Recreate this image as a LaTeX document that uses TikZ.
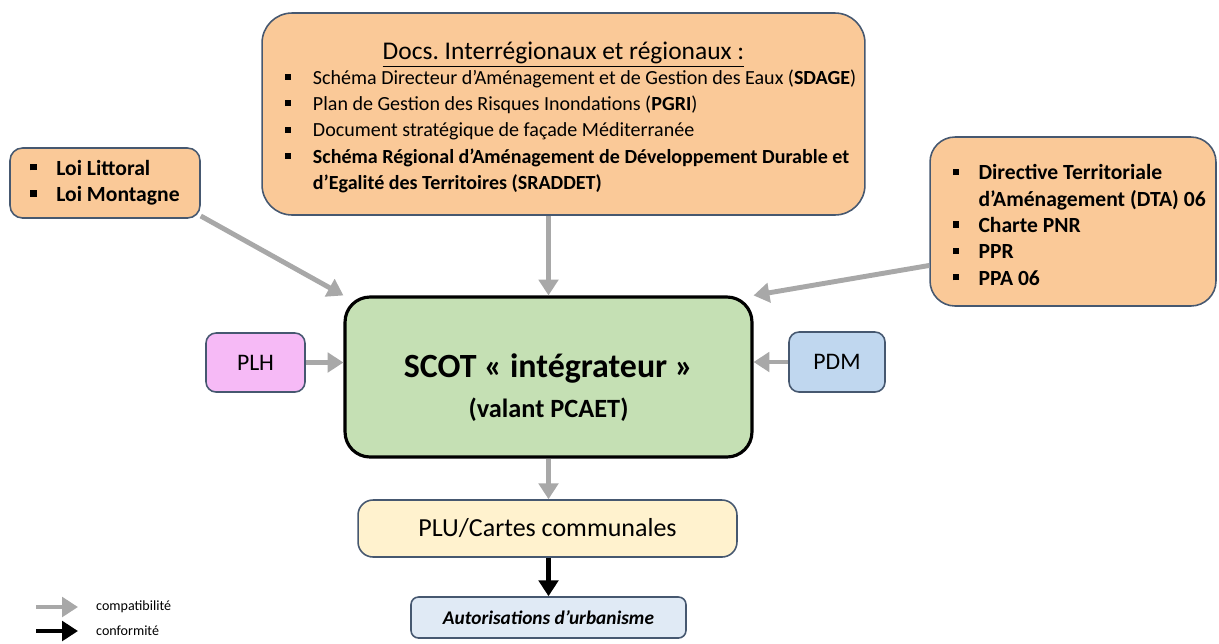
\documentclass[tikz,border=0pt]{standalone}
\usepackage{fontspec}
\setmainfont{Carlito}
\usetikzlibrary{arrows.meta}

\definecolor{orangefill}{RGB}{250,201,152}
\definecolor{greenfill}{RGB}{197,224,180}
\definecolor{pinkfill}{RGB}{246,186,246}
\definecolor{bluefill}{RGB}{192,215,239}
\definecolor{yellowfill}{RGB}{255,242,206}
\definecolor{greyfill}{RGB}{224,234,245}
\definecolor{boxline}{RGB}{70,88,112}
\definecolor{arrowgrey}{RGB}{168,168,168}

\newcommand\puce{\rule[.22em]{.3em}{.3em}}

\tikzset{
  doc/.style={draw=boxline, line width=0.9pt, rounded corners=#1, inner sep=0pt},
  compat/.style={draw=arrowgrey, line width=2.8pt, -{Triangle[length=9pt,width=11pt]}},
  conform/.style={draw=black, line width=2.8pt, -{Triangle[length=9pt,width=11pt]}}
}

\begin{document}
\begin{tikzpicture}[x=0.02cm, y=-0.02cm]
\useasboundingbox (0,0) rectangle (1219,643);

\node[doc=0.6cm, fill=orangefill, minimum width=12.06cm, minimum height=4.04cm] (regio) at (563.5,114)
  {\fontsize{11.4}{13}\selectfont
   \begin{tabular}{@{\hspace{8pt}}l@{\hspace{1.1em}}l@{}}
   \multicolumn{2}{c}{\rule{0pt}{16pt}\fontsize{14.5}{16}\selectfont\underline{Docs.\ Interrégionaux et régionaux :}}\\[1pt]
   \puce & Schéma Directeur d’Aménagement et de Gestion des Eaux (\textbf{SDAGE})\\[2pt]
   \puce & Plan de Gestion des Risques Inondations (\textbf{PGRI})\\[2pt]
   \puce & Document stratégique de façade Méditerranée\\[2pt]
   \puce & \textbf{Schéma Régional d’Aménagement de Développement Durable et}\\[2pt]
         & \textbf{d’Egalité des Territoires (SRADDET)}
   \end{tabular}};

\node[doc=0.25cm, fill=orangefill, minimum width=3.8cm, minimum height=1.4cm] (loi) at (105,183)
  {\fontsize{12.3}{15}\selectfont\bfseries
   \begin{tabular}{@{}l@{\hspace{.9em}}l@{}}
   \puce & Loi Littoral\\
   \puce & Loi Montagne
   \end{tabular}};

\node[doc=0.5cm, fill=orangefill, minimum width=5.72cm, minimum height=3.38cm] (dta) at (1073,221.5)
  {\fontsize{12.3}{15}\selectfont\bfseries
   \begin{tabular}{@{\hspace{7pt}}l@{\hspace{.9em}}l@{}}
   \rule{0pt}{17pt}\puce & Directive Territoriale\\
         & d’Aménagement (DTA) 06\\
   \puce & Charte PNR\\
   \puce & PPR\\
   \puce & PPA 06
   \end{tabular}};

\node[doc=0.5cm, draw=black, line width=1.8pt, fill=greenfill, minimum width=8.14cm, minimum height=3.2cm, align=center] (scot) at (548.5,377)
  {\rule{0pt}{26pt}\fontsize{19.3}{22}\selectfont\textbf{SCOT « intégrateur »}\\[7.5pt]
   \fontsize{15}{17}\selectfont\textbf{(valant PCAET)}};

\node[doc=0.2cm, fill=pinkfill, minimum width=1.98cm, minimum height=1.18cm] (plh) at (255.5,362.5)
  {\fontsize{13.5}{15}\selectfont PLH};

\node[doc=0.2cm, fill=bluefill, minimum width=1.92cm, minimum height=1.2cm] (pdm) at (837,362)
  {\fontsize{13.5}{15}\selectfont PDM};

\node[doc=0.3cm, fill=yellowfill, minimum width=7.58cm, minimum height=1.14cm] (plu) at (547.5,528.5)
  {\fontsize{14.8}{17}\selectfont PLU/Cartes communales};

\node[doc=0.15cm, fill=greyfill, minimum width=5.5cm, minimum height=0.82cm] (autor) at (548.5,617.5)
  {\fontsize{11}{13}\selectfont\bfseries\itshape Autorisations d’urbanisme};

\draw[compat] (loi.-19) -- (scot.north west);
\draw[compat] (regio.south -| scot.north) -- (scot.north);
\draw[compat] (dta.197) -- (scot.north east);
\draw[compat] (plh.east) -- (scot.west |- plh.east);
\draw[compat] (pdm.west) -- (scot.east |- pdm.west);
\draw[compat] (scot.south) -- (scot.south |- plu.north);
\draw[conform] (plu.south -| autor.north) -- (autor.north);

\coordinate (g1) at (36,607);
\coordinate (g2) at (78,607);
\coordinate (b1) at (36,631);
\coordinate (b2) at (78,631);
\draw[compat] (g1) -- (g2);
\draw[conform] (b1) -- (b2);
\node[anchor=west, font=\fontsize{8}{10}\selectfont] (lcompat) at (90,607) {compatibilité};
\node[anchor=west, font=\fontsize{8}{10}\selectfont] (lconform) at (90,631) {conformité};
\end{tikzpicture}
\end{document}
